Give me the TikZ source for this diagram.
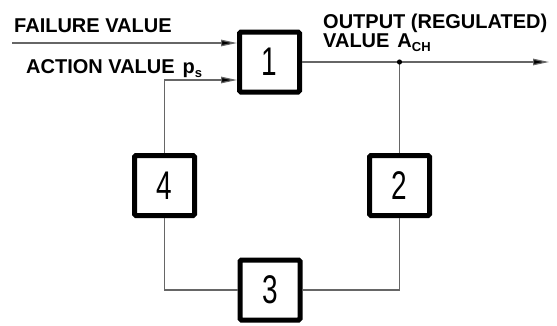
\documentclass[tikz,border=0pt]{standalone}
\usepackage{fontspec}
\setmainfont{Liberation Sans}
\usetikzlibrary{arrows.meta}
\tikzset{
  blk/.style={draw=black, line width=5pt, rounded corners=1.5pt, minimum width=60pt, minimum height=60pt, inner sep=0pt, font=\fontsize{40}{40}\selectfont},
  conn/.style={draw=black!60, line width=1.2pt},
  arr/.style={-{Triangle[length=16pt,width=6.5pt,fill=black]}},
  lbl/.style={font=\bfseries\fontsize{20}{20}\selectfont, inner sep=0pt, anchor=base west},
}
\newcommand{\dg}[1]{\scalebox{0.7}[1]{#1}}
\begin{document}
\begin{tikzpicture}[x=1pt,y=-1pt]
\useasboundingbox (0,0) rectangle (557,325);
\node[blk] (b1) at (269.5,62) {\dg{1}};
\node[blk] (b2) at (399.5,185.5) {\dg{2}};
\node[blk] (b3) at (270,290) {\dg{3}};
\node[blk] (b4) at (164.5,185.5) {\dg{4}};
\coordinate (fin) at (12,43);
\coordinate (out) at (549,62);
\coordinate (dot) at (399.5,62);
\coordinate (fb) at (164.5,80);
\draw[conn,arr] (fin) -- (fin -| b1.west);
\draw[conn,arr] (b4.north) -- (fb) -- (fb -| b1.west);
\draw[conn,arr] (b1.east) -- (out);
\draw[conn] (dot) -- (b2.north);
\draw[conn] (b4.south) |- (b3.west);
\draw[conn] (b3.east) -| (b2.south);
\fill[black] (dot) circle (2.6pt);
\node[lbl] (t1) at (14,32) {FAILURE VALUE};
\node[lbl] (t2) at (26,73) {ACTION VALUE\hspace{0.4em}p\raisebox{-4pt}{\fontsize{13}{13}\selectfont s}};
\node[lbl] (t3) at (323,28.3) {OUTPUT (REGULATED)};
\node[lbl] (t4) at (323,47.8) {VALUE\hspace{0.4em}A\raisebox{-4pt}{\fontsize{13}{13}\selectfont CH}};
\end{tikzpicture}
\end{document}
